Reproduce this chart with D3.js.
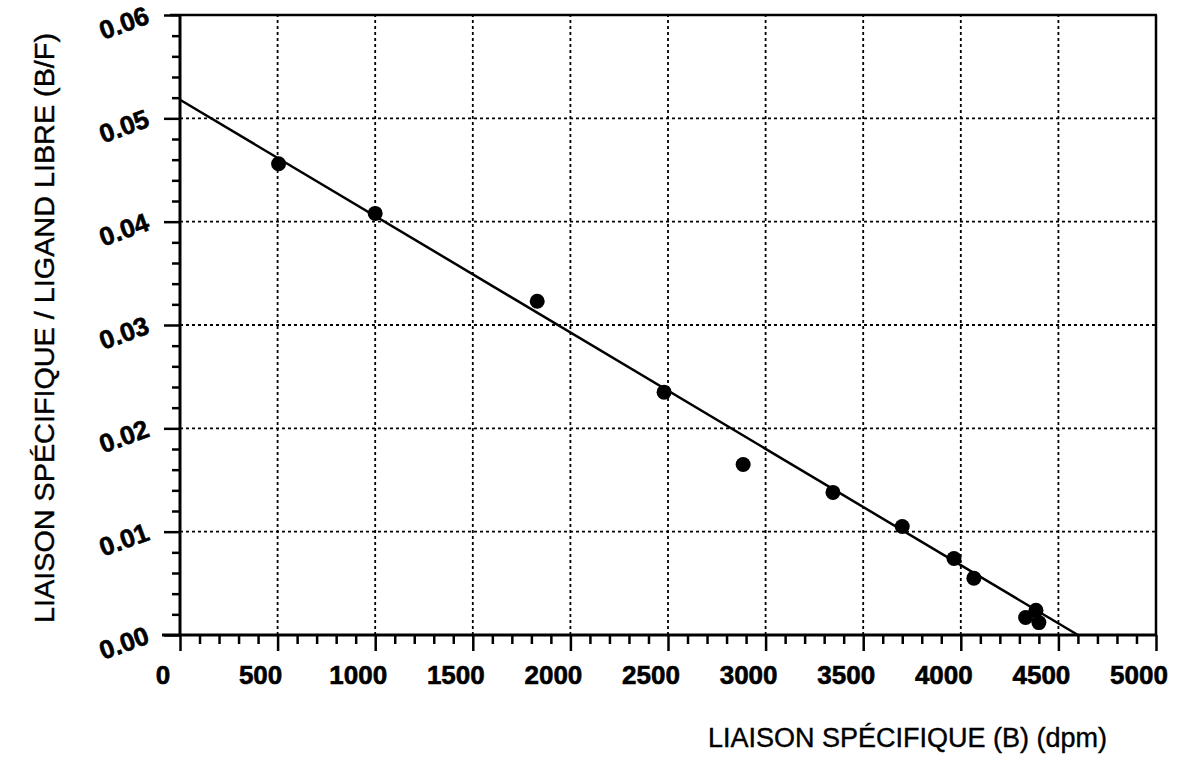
<!DOCTYPE html>
<html>
<head>
<meta charset="utf-8">
<style>
    body { margin: 0; background: #fff; }
    svg { display: block; }
    .axis .domain { display: none; }
    .axis .tick line { stroke: #000; stroke-width: 2.5px; }
    .grid line { stroke: #000; stroke-width: 1.8px; stroke-dasharray: 3, 3; }
    .tlabel {
        font-family: 'Liberation Sans', Arial, sans-serif;
        font-weight: bold;
        font-size: 26px;
        fill: #000;
        stroke: #000;
        stroke-width: 0.6px;
    }
    .title {
        font-family: 'Liberation Sans', Arial, sans-serif;
        font-size: 27px;
        fill: #000;
        stroke: #000;
        stroke-width: 0.4px;
    }
</style>
</head>
<body>
<svg width="1181" height="765"></svg>

<script src="https://d3js.org/d3.v7.min.js"></script>
<script>
    // bound (dpm) vs bound/free ratio
    const boundB = [505, 1000, 1830, 2480, 2885, 3345, 3700, 3965, 4067, 4332, 4385, 4400];
    const ratioBF = [0.0456, 0.0408, 0.0323, 0.0235, 0.0165, 0.0138, 0.0105, 0.0074, 0.0055, 0.0017, 0.0024, 0.0012];

    // fitted line: y-intercept and x-intercept
    const fitYIntercept = 0.0518;
    const fitXIntercept = 4600;

    const xTicks = [0, 500, 1000, 1500, 2000, 2500, 3000, 3500, 4000, 4500, 5000];
    const xMinor = d3.range(100, 5000, 100).filter(v => v % 500 != 0);
    const yTicks = [0, 0.01, 0.02, 0.03, 0.04, 0.05, 0.06];
    const yTickLabels = ["0.00", "0.01", "0.02", "0.03", "0.04", "0.05", "0.06"];
    const yMinor = d3.range(1, 30).map(i => i * 0.002).filter((v, i) => (i + 1) % 5 != 0);

    const xTitle = "LIAISON SPÉCIFIQUE (B) (dpm)";
    const yTitle = "LIAISON SPÉCIFIQUE / LIGAND LIBRE (B/F)";

    const svg = d3.select("svg");
    const margin = { left: 180, right: 1156, top: 15, bottom: 635 };

    const x = d3.scaleLinear().domain([0, 5000]).range([margin.left, margin.right]);
    const y = d3.scaleLinear().domain([0, 0.06]).range([margin.bottom, margin.top]);

    // dotted grid
    const grid = svg.append("g").attr("class", "grid");
    grid.selectAll(".vg")
        .data(xTicks.slice(1, -1))
        .join("line")
        .attr("x1", d => x(d)).attr("x2", d => x(d))
        .attr("y1", y(0)).attr("y2", y(0.06));
    grid.selectAll(".hg")
        .data(yTicks.slice(1, -1))
        .join("line")
        .attr("x1", x(0)).attr("x2", x(5000))
        .attr("y1", d => y(d)).attr("y2", d => y(d));

    // ticks
    svg.append("g").attr("class", "axis")
        .attr("transform", `translate(0,${y(0)})`)
        .call(d3.axisBottom(x).tickValues(xMinor).tickSize(9).tickFormat(""));
    svg.append("g").attr("class", "axis")
        .attr("transform", `translate(0,${y(0)})`)
        .call(d3.axisBottom(x).tickValues(xTicks).tickSize(16).tickFormat(""));
    svg.append("g").attr("class", "axis")
        .attr("transform", `translate(${x(0)},0)`)
        .call(d3.axisLeft(y).tickValues(yMinor).tickSize(8).tickFormat(""));
    svg.append("g").attr("class", "axis")
        .attr("transform", `translate(${x(0)},0)`)
        .call(d3.axisLeft(y).tickValues(yTicks).tickSize(16).tickFormat(""));

    // frame
    svg.append("line")
        .attr("x1", x(0) - 18).attr("x2", x(5000))
        .attr("y1", y(0)).attr("y2", y(0))
        .style("stroke", "#000").style("stroke-width", 3);
    svg.append("line")
        .attr("x1", x(0)).attr("x2", x(0))
        .attr("y1", y(0.06)).attr("y2", y(0))
        .style("stroke", "#000").style("stroke-width", 3);
    svg.append("line")
        .attr("x1", x(0) - 10).attr("x2", x(5000) + 1)
        .attr("y1", y(0.06)).attr("y2", y(0.06))
        .style("stroke", "#000").style("stroke-width", 2.5);
    svg.append("line")
        .attr("x1", x(5000)).attr("x2", x(5000))
        .attr("y1", y(0.06)).attr("y2", y(0))
        .style("stroke", "#000").style("stroke-width", 2.5);

    // tick labels
    svg.selectAll(".xl")
        .data(xTicks)
        .join("text")
        .attr("class", "tlabel")
        .attr("text-anchor", "middle")
        .attr("x", d => x(d) - 17)
        .attr("y", y(0) + 49)
        .text(d => d);

    svg.selectAll(".yl")
        .data(yTicks)
        .join("text")
        .attr("class", "tlabel")
        .attr("text-anchor", "middle")
        .attr("dominant-baseline", "central")
        .attr("transform", d => `translate(${x(0) - 56},${y(d) + 8}) rotate(-20)`)
        .text((d, i) => yTickLabels[i]);

    // axis titles
    svg.append("text")
        .attr("class", "title")
        .attr("x", 708)
        .attr("y", 747)
        .text(xTitle);

    svg.append("text")
        .attr("class", "title")
        .attr("text-anchor", "middle")
        .attr("transform", `translate(54,328) rotate(-90)`)
        .attr("textLength", 590)
        .attr("lengthAdjust", "spacingAndGlyphs")
        .text(yTitle);

    // regression line
    svg.append("line")
        .attr("x1", x(0)).attr("y1", y(fitYIntercept))
        .attr("x2", x(fitXIntercept)).attr("y2", y(0))
        .style("stroke", "#000").style("stroke-width", 2.5);

    // points
    svg.selectAll(".pt")
        .data(boundB)
        .join("circle")
        .attr("cx", d => x(d))
        .attr("cy", (d, i) => y(ratioBF[i]))
        .attr("r", 7.5)
        .attr("fill", "#000");
</script>
</body>
</html>
